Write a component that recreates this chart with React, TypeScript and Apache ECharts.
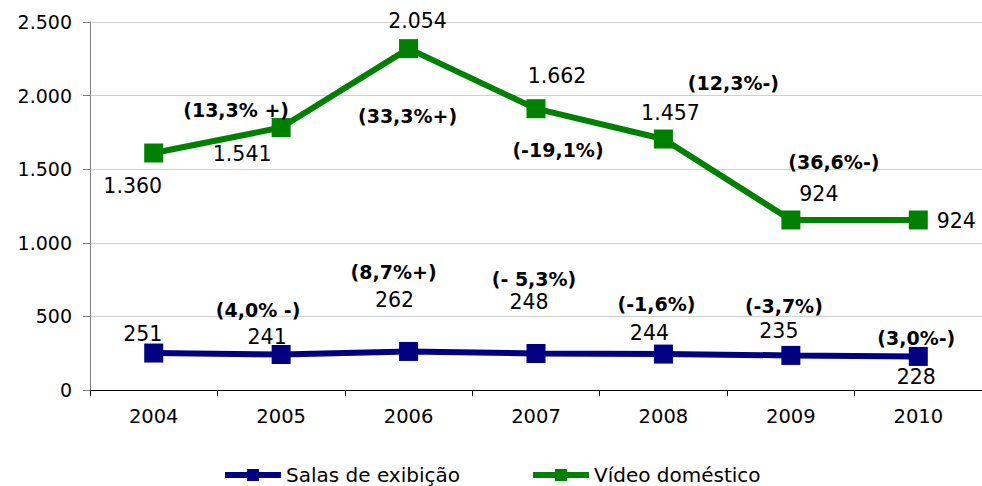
import React, { useEffect, useRef } from "react";
import * as echarts from "echarts";

const categories = ["2004", "2005", "2006", "2007", "2008", "2009", "2010"];
const salasValues = [251, 241, 262, 248, 244, 235, 228];
const videoValues = [1610, 1783, 2319, 1911, 1705, 1155, 1155];
const salasLabels = ["251", "241", "262", "248", "244", "235", "228"];
const videoLabels = ["1.360", "1.541", "2.054", "1.662", "1.457", "924", "924"];
const salasPct = ["", "(4,0% -)", "(8,7%+)", "(- 5,3%)", "(-1,6%)", "(-3,7%)", "(3,0%-)"];
const videoPct = ["", "(13,3% +)", "(33,3%+)", "(-19,1%)", "(12,3%-)", "(36,6%-)", ""];
const yTicks = { min: 0, max: 2500, interval: 500 };

// label offsets (pixels) relative to each point
const salasLabelOffsets = [[-11, -19], [-14, -18], [-14, -51], [-7, -51], [-14, -21], [-12, -24], [-2, 21]];
const salasPctOffsets = [[0, 0], [-23, -45], [-15, -79], [-2, -74], [-7, -50], [-7, -49], [-2, -18]];
const videoLabelOffsets = [[-21, 33], [-39, 26], [9, -28], [21, -33], [7, -26], [28, -26], [38, 1]];
const videoPctOffsets = [[0, 0], [-45, -18], [-1, 67], [22, 41], [70, -56], [43, -58], [0, 0]];

const FONT = "DejaVu Sans, Verdana, sans-serif";
const BLUE = "#000080";
const GREEN = "#008000";

function fmt(v: number) {
  return String(v).replace(/\B(?=(\d{3})+(?!\d))/g, ".");
}

export default function App() {
  const ref = useRef<HTMLDivElement>(null);
  useEffect(() => {
    if (!ref.current) return;
    const chart = echarts.init(ref.current, null, { renderer: "svg" });
    const valueLabel = { fontFamily: FONT, fontSize: 20.5, color: "#000", textBorderWidth: 0 };
    const pctLabel = { fontFamily: FONT, fontSize: 19, fontWeight: "bold", color: "#000", textBorderWidth: 0, opacity: 1 };
    const mkLine = (vals: number[], texts: string[], offs: number[][]) =>
      vals.map((v, i) => ({
        value: v,
        label: { show: true, position: "inside", formatter: texts[i], offset: offs[i], ...valueLabel },
      }));
    const mkPct = (vals: number[], texts: string[], offs: number[][]) =>
      vals.map((v, i) => ({
        value: v,
        label: { show: texts[i] !== "", position: "inside", formatter: texts[i], offset: offs[i], ...pctLabel },
      }));
    chart.setOption({
      animation: false,
      grid: { left: 90, top: 22, width: 897, height: 368 },
      legend: {
        data: ["Salas de exibição", "Vídeo doméstico"],
        left: 222,
        top: 465,
        padding: 0,
        itemWidth: 56,
        itemHeight: 15,
        itemGap: 70,
        lineStyle: { width: 6 },
        textStyle: { fontFamily: FONT, fontSize: 20, lineHeight: 20, color: "#000" },
      },
      xAxis: {
        type: "category",
        data: categories,
        boundaryGap: true,
        axisLine: { lineStyle: { color: "#000", width: 1 } },
        axisTick: { show: true, length: 6, lineStyle: { color: "#000" } },
        axisLabel: { fontFamily: FONT, fontSize: 19.5, color: "#000", margin: 16 },
        splitLine: { show: false },
      },
      yAxis: {
        type: "value",
        min: yTicks.min,
        max: yTicks.max,
        interval: yTicks.interval,
        axisLine: { show: true, lineStyle: { color: "#808080", width: 1 } },
        axisTick: { show: true, length: 7, lineStyle: { color: "#808080" } },
        axisLabel: { fontFamily: FONT, fontSize: 19, color: "#000", margin: 18, formatter: (v: number) => fmt(v) },
        splitLine: { show: true, lineStyle: { color: "#d0d0d0", width: 1 } },
      },
      series: [
        {
          name: "Salas de exibição",
          type: "line",
          data: mkLine(salasValues, salasLabels, salasLabelOffsets),
          symbol: "rect",
          symbolSize: 19,
          lineStyle: { color: BLUE, width: 6 },
          itemStyle: { color: BLUE },
          z: 3,
        },
        {
          name: "Vídeo doméstico",
          type: "line",
          data: mkLine(videoValues, videoLabels, videoLabelOffsets),
          symbol: "rect",
          symbolSize: 19,
          lineStyle: { color: GREEN, width: 6 },
          itemStyle: { color: GREEN },
          z: 3,
        },
        {
          name: "salasPct",
          type: "scatter",
          data: mkPct(salasValues, salasPct, salasPctOffsets),
          symbolSize: 2,
          itemStyle: { color: "rgba(0,0,0,0)", opacity: 1 },
          silent: true,
          z: 4,
        },
        {
          name: "videoPct",
          type: "scatter",
          data: mkPct(videoValues, videoPct, videoPctOffsets),
          symbolSize: 2,
          itemStyle: { color: "rgba(0,0,0,0)", opacity: 1 },
          silent: true,
          z: 4,
        },
      ],
    });
    return () => chart.dispose();
  }, []);
  return (
    <div
      ref={ref}
      style={{ position: "fixed", left: 0, top: 0, width: 982, height: 486, background: "#fff" }}
    />
  );
}
